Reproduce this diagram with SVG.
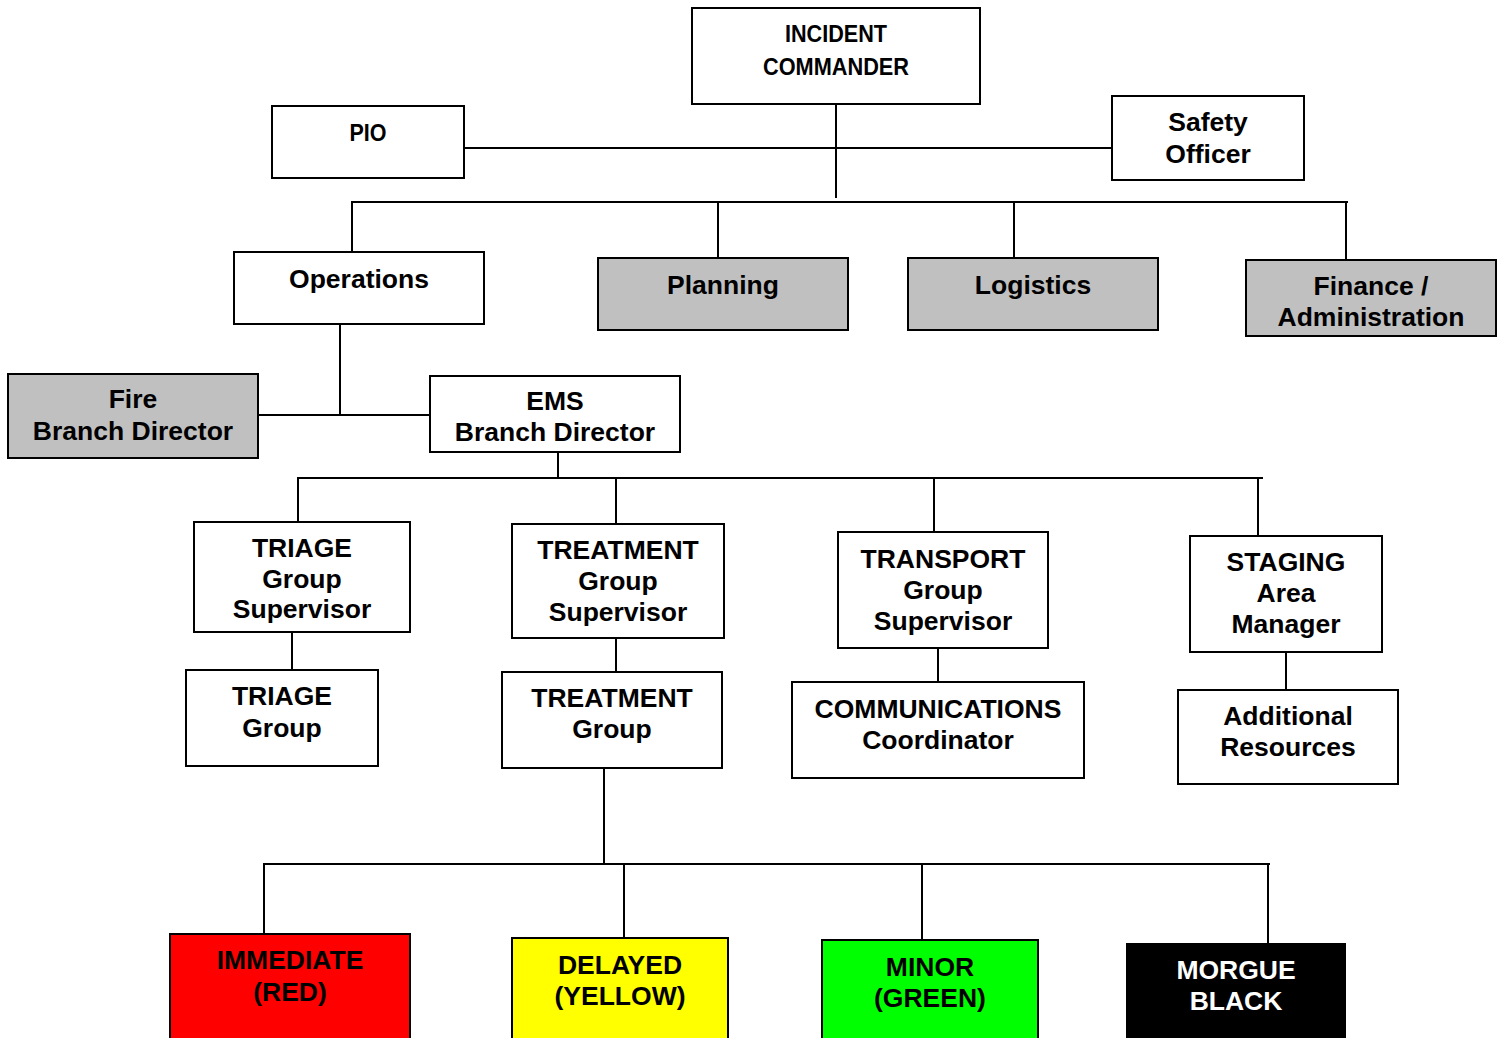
<svg xmlns="http://www.w3.org/2000/svg" width="1504" height="1038" viewBox="0 0 1504 1038">
<style>
.box{stroke:#000;stroke-width:2;fill:#fff}
.gray{fill:#c0c0c0}
.t{font-family:"Liberation Sans",Arial,sans-serif;font-weight:bold;font-size:26.5px;text-anchor:middle;fill:#000}
.w{fill:#fff}
.c line{stroke:#000;stroke-width:2}
</style>
<rect width="1504" height="1038" fill="#fff"/>
<g class="c" id="connectors">
<line x1="836" y1="104" x2="836" y2="198"/>
<line x1="464" y1="148" x2="1112" y2="148"/>
<line x1="351" y1="202" x2="1348" y2="202"/>
<line x1="352" y1="202" x2="352" y2="252"/>
<line x1="718" y1="202" x2="718" y2="258"/>
<line x1="1014" y1="202" x2="1014" y2="258"/>
<line x1="1346" y1="202" x2="1346" y2="260"/>
<line x1="340" y1="324" x2="340" y2="415"/>
<line x1="258" y1="415" x2="430" y2="415"/>
<line x1="558" y1="452" x2="558" y2="478"/>
<line x1="297" y1="478" x2="1263" y2="478"/>
<line x1="298" y1="478" x2="298" y2="522"/>
<line x1="616" y1="478" x2="616" y2="524"/>
<line x1="934" y1="478" x2="934" y2="532"/>
<line x1="1258" y1="478" x2="1258" y2="536"/>
<line x1="292" y1="632" x2="292" y2="670"/>
<line x1="616" y1="638" x2="616" y2="672"/>
<line x1="938" y1="648" x2="938" y2="682"/>
<line x1="1286" y1="652" x2="1286" y2="690"/>
<line x1="604" y1="768" x2="604" y2="864"/>
<line x1="263" y1="864" x2="1270" y2="864"/>
<line x1="264" y1="864" x2="264" y2="934"/>
<line x1="624" y1="864" x2="624" y2="938"/>
<line x1="922" y1="864" x2="922" y2="940"/>
<line x1="1268" y1="864" x2="1268" y2="944"/>
</g>
<g id="incident-commander">
<rect class="box" x="692" y="8" width="288" height="96"/>
<text class="t" x="836" y="42" font-size="23" style="font-size:23px" textLength="102" lengthAdjust="spacingAndGlyphs">INCIDENT</text>
<text class="t" x="836" y="75" style="font-size:23px" textLength="146" lengthAdjust="spacingAndGlyphs">COMMANDER</text>
</g>
<g id="pio">
<rect class="box" x="272" y="106" width="192" height="72"/>
<text class="t" x="368" y="141" style="font-size:23px" textLength="37" lengthAdjust="spacingAndGlyphs">PIO</text>
</g>
<g id="safety-officer">
<rect class="box" x="1112" y="96" width="192" height="84"/>
<text class="t" x="1208" y="131">Safety</text>
<text class="t" x="1208" y="163">Officer</text>
</g>
<g id="operations">
<rect class="box" x="234" y="252" width="250" height="72"/>
<text class="t" x="359" y="288">Operations</text>
</g>
<g id="planning">
<rect class="box gray" x="598" y="258" width="250" height="72"/>
<text class="t" x="723" y="294">Planning</text>
</g>
<g id="logistics">
<rect class="box gray" x="908" y="258" width="250" height="72"/>
<text class="t" x="1033" y="294">Logistics</text>
</g>
<g id="finance">
<rect class="box gray" x="1246" y="260" width="250" height="76"/>
<text class="t" x="1371" y="295">Finance /</text>
<text class="t" x="1371" y="326">Administration</text>
</g>
<g id="fire-branch">
<rect class="box gray" x="8" y="374" width="250" height="84"/>
<text class="t" x="133" y="408">Fire</text>
<text class="t" x="133" y="440">Branch Director</text>
</g>
<g id="ems-branch">
<rect class="box" x="430" y="376" width="250" height="76"/>
<text class="t" x="555" y="410">EMS</text>
<text class="t" x="555" y="441">Branch Director</text>
</g>
<g id="triage-sup">
<rect class="box" x="194" y="522" width="216" height="110"/>
<text class="t" x="302" y="557">TRIAGE</text>
<text class="t" x="302" y="588">Group</text>
<text class="t" x="302" y="618">Supervisor</text>
</g>
<g id="treatment-sup">
<rect class="box" x="512" y="524" width="212" height="114"/>
<text class="t" x="618" y="559">TREATMENT</text>
<text class="t" x="618" y="590">Group</text>
<text class="t" x="618" y="621">Supervisor</text>
</g>
<g id="transport-sup">
<rect class="box" x="838" y="532" width="210" height="116"/>
<text class="t" x="943" y="568">TRANSPORT</text>
<text class="t" x="943" y="599">Group</text>
<text class="t" x="943" y="630">Supervisor</text>
</g>
<g id="staging">
<rect class="box" x="1190" y="536" width="192" height="116"/>
<text class="t" x="1286" y="571">STAGING</text>
<text class="t" x="1286" y="602">Area</text>
<text class="t" x="1286" y="633">Manager</text>
</g>
<g id="triage-group">
<rect class="box" x="186" y="670" width="192" height="96"/>
<text class="t" x="282" y="705">TRIAGE</text>
<text class="t" x="282" y="737">Group</text>
</g>
<g id="treatment-group">
<rect class="box" x="502" y="672" width="220" height="96"/>
<text class="t" x="612" y="707">TREATMENT</text>
<text class="t" x="612" y="738">Group</text>
</g>
<g id="communications">
<rect class="box" x="792" y="682" width="292" height="96"/>
<text class="t" x="938" y="718">COMMUNICATIONS</text>
<text class="t" x="938" y="749">Coordinator</text>
</g>
<g id="additional">
<rect class="box" x="1178" y="690" width="220" height="94"/>
<text class="t" x="1288" y="725">Additional</text>
<text class="t" x="1288" y="756">Resources</text>
</g>
<g id="immediate">
<rect class="box" x="170" y="934" width="240" height="110" style="fill:#ff0000"/>
<text class="t" x="290" y="969">IMMEDIATE</text>
<text class="t" x="290" y="1001">(RED)</text>
</g>
<g id="delayed">
<rect class="box" x="512" y="938" width="216" height="110" style="fill:#ffff00"/>
<text class="t" x="620" y="974">DELAYED</text>
<text class="t" x="620" y="1005">(YELLOW)</text>
</g>
<g id="minor">
<rect class="box" x="822" y="940" width="216" height="110" style="fill:#00ff00"/>
<text class="t" x="930" y="976">MINOR</text>
<text class="t" x="930" y="1007">(GREEN)</text>
</g>
<g id="morgue">
<rect class="box" x="1127" y="944" width="218" height="110" style="fill:#000"/>
<text class="t w" x="1236" y="979">MORGUE</text>
<text class="t w" x="1236" y="1010">BLACK</text>
</g>
</svg>
